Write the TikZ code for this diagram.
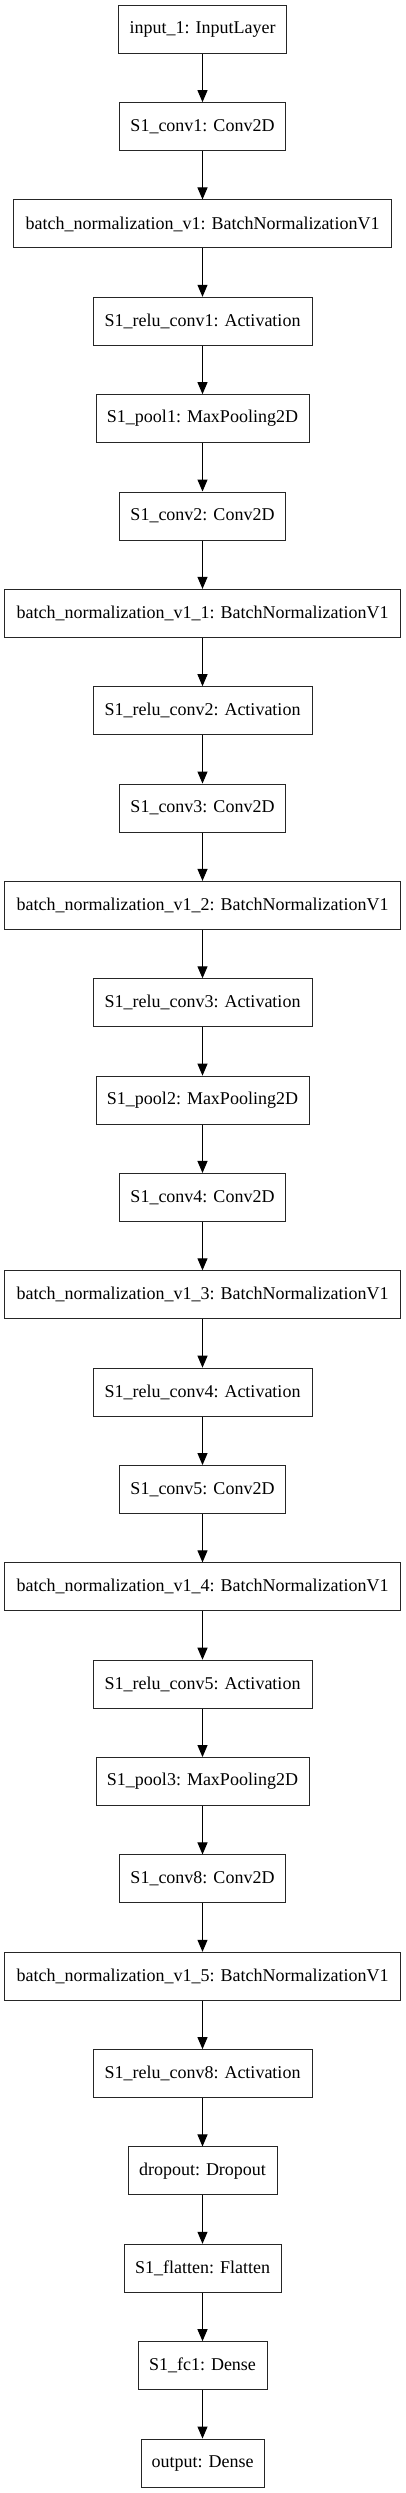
\documentclass[tikz,border=0pt]{standalone}
\usepackage{fontspec}
\setmainfont{Liberation Serif}
\usetikzlibrary{arrows.meta}
\tikzset{
  layer/.style={draw=black!85, line width=1pt, rectangle, minimum height=48pt, inner sep=0pt, font=\fontsize{18pt}{20pt}\selectfont, anchor=center},
  conn/.style={line width=1pt, -{Triangle[length=12pt,width=10pt]}}
}
\begin{document}
\begin{tikzpicture}[x=1pt,y=1pt]
\useasboundingbox (0,0) rectangle (405,2493);
\def\cx{202.5}
\newcommand{\ly}[1]{2463.7-97.35*#1}
\node[layer, minimum width=168pt] (n0) at (\cx,{\ly{0}}) {input\_1: InputLayer};
\node[layer, minimum width=166pt] (n1) at (\cx,{\ly{1}}) {S1\_conv1: Conv2D};
\node[layer, minimum width=378pt] (n2) at (\cx,{\ly{2}}) {batch\_normalization\_v1: BatchNormalizationV1};
\node[layer, minimum width=219pt] (n3) at (\cx,{\ly{3}}) {S1\_relu\_conv1: Activation};
\node[layer, minimum width=213pt] (n4) at (\cx,{\ly{4}}) {S1\_pool1: MaxPooling2D};
\node[layer, minimum width=166pt] (n5) at (\cx,{\ly{5}}) {S1\_conv2: Conv2D};
\node[layer, minimum width=396pt] (n6) at (\cx,{\ly{6}}) {batch\_normalization\_v1\_1: BatchNormalizationV1};
\node[layer, minimum width=219pt] (n7) at (\cx,{\ly{7}}) {S1\_relu\_conv2: Activation};
\node[layer, minimum width=166pt] (n8) at (\cx,{\ly{8}}) {S1\_conv3: Conv2D};
\node[layer, minimum width=396pt] (n9) at (\cx,{\ly{9}}) {batch\_normalization\_v1\_2: BatchNormalizationV1};
\node[layer, minimum width=219pt] (n10) at (\cx,{\ly{10}}) {S1\_relu\_conv3: Activation};
\node[layer, minimum width=213pt] (n11) at (\cx,{\ly{11}}) {S1\_pool2: MaxPooling2D};
\node[layer, minimum width=166pt] (n12) at (\cx,{\ly{12}}) {S1\_conv4: Conv2D};
\node[layer, minimum width=396pt] (n13) at (\cx,{\ly{13}}) {batch\_normalization\_v1\_3: BatchNormalizationV1};
\node[layer, minimum width=219pt] (n14) at (\cx,{\ly{14}}) {S1\_relu\_conv4: Activation};
\node[layer, minimum width=166pt] (n15) at (\cx,{\ly{15}}) {S1\_conv5: Conv2D};
\node[layer, minimum width=396pt] (n16) at (\cx,{\ly{16}}) {batch\_normalization\_v1\_4: BatchNormalizationV1};
\node[layer, minimum width=219pt] (n17) at (\cx,{\ly{17}}) {S1\_relu\_conv5: Activation};
\node[layer, minimum width=213pt] (n18) at (\cx,{\ly{18}}) {S1\_pool3: MaxPooling2D};
\node[layer, minimum width=166pt] (n19) at (\cx,{\ly{19}}) {S1\_conv8: Conv2D};
\node[layer, minimum width=396pt] (n20) at (\cx,{\ly{20}}) {batch\_normalization\_v1\_5: BatchNormalizationV1};
\node[layer, minimum width=219pt] (n21) at (\cx,{\ly{21}}) {S1\_relu\_conv8: Activation};
\node[layer, minimum width=149pt] (n22) at (\cx,{\ly{22}}) {dropout: Dropout};
\node[layer, minimum width=157pt] (n23) at (\cx,{\ly{23}}) {S1\_flatten: Flatten};
\node[layer, minimum width=129pt] (n24) at (\cx,{\ly{24}}) {S1\_fc1: Dense};
\node[layer, minimum width=123pt] (n25) at (\cx,{\ly{25}}) {output: Dense};
\foreach \a [evaluate=\a as \b using int(\a+1)] in {0,...,24}
  \draw[conn] (n\a.south) -- (n\b.north);
\end{tikzpicture}
\end{document}
